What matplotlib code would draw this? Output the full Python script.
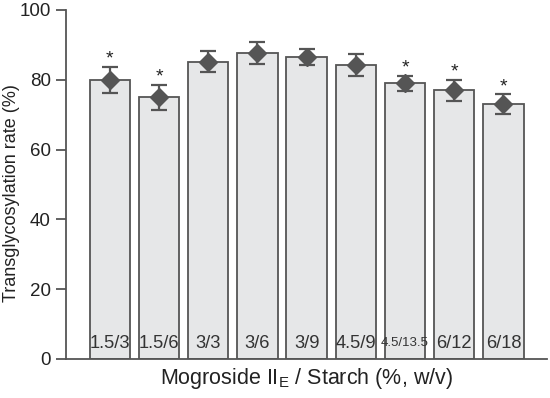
import matplotlib.pyplot as plt

plt.rcParams['font.family'] = ['Liberation Sans', 'DejaVu Sans']

ratios = ['1.5/3', '1.5/6', '3/3', '3/6', '3/9', '4.5/9', '4.5/13.5', '6/12', '6/18']
rates = [80.0, 75.0, 85.2, 87.6, 86.5, 84.3, 79.0, 77.0, 73.0]
errors = [3.7, 3.6, 3.1, 3.2, 2.4, 3.2, 2.1, 3.0, 2.8]
significant = [True, True, False, False, False, False, True, True, True]

fig = plt.figure(figsize=(5.5, 3.98), dpi=100)
ax = fig.add_axes([0.12, 0.098, 0.875, 0.877])

x = list(range(len(ratios)))
ax.bar(x, rates, width=0.82, color='#e6e7e8', edgecolor='#555555', linewidth=1.3)
ax.errorbar(x, rates, yerr=errors, fmt='D', color='#555555', markersize=9,
            capsize=6, elinewidth=1.6, capthick=1.6)

# ratio labels inside the bars
for xi, lab in zip(x, ratios):
    size = 9.5 if lab == '4.5/13.5' else 13.2
    ax.text(xi, 4.5, lab, ha='center', va='center', fontsize=size, color='#333333')

# asterisks
for xi, r, e, s in zip(x, rates, errors, significant):
    if s:
        ax.text(xi, r + e - 0.3, '*', ha='center', va='bottom', fontsize=14, color='#222222')

ax.set_xlim(-0.89, 8.89)
ax.set_ylim(0, 100)
ax.set_yticks([0, 20, 40, 60, 80, 100])
ax.set_xticks([])
ax.spines['top'].set_visible(False)
ax.spines['right'].set_visible(False)
for sp in ['left', 'bottom']:
    ax.spines[sp].set_color('#555555')
    ax.spines[sp].set_linewidth(1.3)
ax.tick_params(axis='y', length=7, width=1.3, color='#555555', labelsize=13.5,
               labelcolor='#222222', pad=4)

ax.set_ylabel('Transglycosylation rate (%)', fontsize=13, color='#222222')
ax.yaxis.set_label_coords(-0.095, 0.475)
ax.set_xlabel('Mogroside II$_\\mathregular{E}$ / Starch (%, w/v)', fontsize=15.5,
              color='#222222', labelpad=5)

fig.savefig('out.png', dpi=100)
